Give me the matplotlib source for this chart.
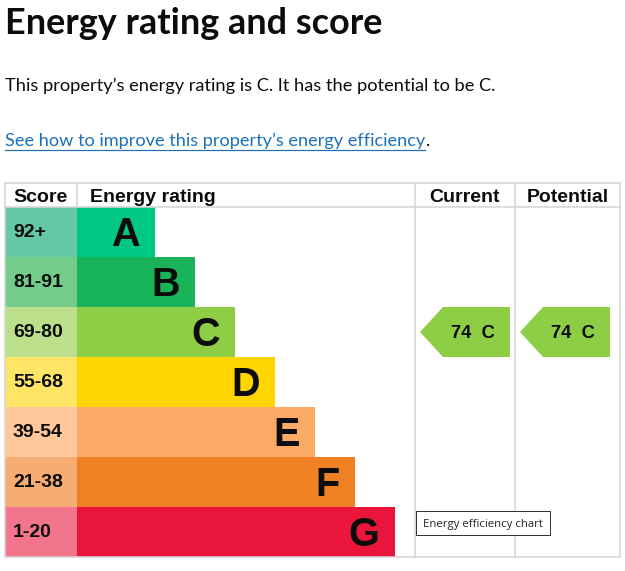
import matplotlib
matplotlib.use("Agg")
import matplotlib.pyplot as plt
from matplotlib.patches import Polygon

# ---- data ----
bands = ["A", "B", "C", "D", "E", "F", "G"]
score_ranges = ["92+", "81-91", "69-80", "55-68", "39-54", "21-38", "1-20"]
range_low = [92, 81, 69, 55, 39, 21, 1]
band_colors = ["#00c781", "#19b459", "#8dce46", "#ffd500", "#fcaa65", "#ef8023", "#e9153b"]
score_colors = ["#64c8a5", "#74cc8b", "#bbdf8a", "#ffe566", "#fec89b", "#f5ad74", "#f2758b"]
current_score = 74
potential_score = 74
headers = ["Score", "Energy rating", "Current", "Potential"]

title = "Energy rating and score"
summary = "This property\u2019s energy rating is C. It has the potential to be C."
link_text = "See how to improve this property\u2019s energy efficiency"
tooltip = "Energy efficiency chart"

# ---- layout (pixels) ----
W, H = 625, 571
fig = plt.figure(figsize=(W / 100, H / 100), dpi=100)
ax = fig.add_axes([0, 0, 1, 1])
ax.set_xlim(0, W)
ax.set_ylim(H, 0)
ax.axis("off")

PT = 72 / 100  # px -> pt
grey = "#d6d6d6"
lw = 1.6 * PT

left, right = 5, 620
top, head_bot = 183, 207
row_h = 50
score_w = 72
band_left = left + score_w
band_base, band_step = 78, 40
col_cur, col_pot = 415, 515
bottom = head_bot + row_h * len(bands)

text_font = ["Lato", "DejaVu Sans"]
table_font = ["Liberation Sans", "DejaVu Sans"]
renderer = fig.canvas.get_renderer()
inv = ax.transData.inverted()


def fit_text(x, y, s, target_w, size, **kw):
    t = ax.text(x, y, s, fontsize=size, va="baseline", ha="left", **kw)
    bb = t.get_window_extent(renderer)
    t.set_fontsize(size * target_w / bb.width)
    return t


# title & text
fit_text(5, 34, title, 378, 24, fontweight="bold", family=text_font,
         color="#0b0c0c")
fit_text(5, 91, summary, 492, 14, family=text_font, color="#0b0c0c")
lt = fit_text(5, 146, link_text, 423, 14, family=text_font, color="#1d70b8")
bb = lt.get_window_extent(renderer)
(x0, _), (x1, _) = inv.transform([[bb.x0, 0], [bb.x1, 0]])
ax.plot([x0, x1], [149.5, 149.5], color="#1d70b8", lw=1.2 * PT)
ax.text(x1 + 0.5, 146, ".", fontsize=lt.get_fontsize(), family=text_font,
        va="baseline", ha="left", color="#0b0c0c")

# rows
centers = [head_bot + row_h * (i + 0.5) for i in range(len(bands))]
widths = [band_base + band_step * i for i in range(len(bands))]
ax.barh(centers, [score_w] * len(bands), left=left, height=row_h,
        color=score_colors, linewidth=0)
ax.barh(centers, widths, left=band_left, height=row_h,
        color=band_colors, linewidth=0)
for c, s, w, b in zip(centers, score_ranges, widths, bands):
    ax.text(13, c + 5, s, fontsize=14, fontweight="bold", family=table_font,
            va="baseline", ha="left", color="#0b0c0c")
    ax.text(band_left + w - 15.5, c + 14, b, fontsize=28.5, fontweight="bold",
            family=table_font, va="baseline", ha="right", color="#0b0c0c")

# grid lines
ax.plot([left, right, right, left, left], [top, top, bottom, bottom, top],
        color=grey, lw=lw, solid_joinstyle="miter")
ax.plot([left, right], [head_bot, head_bot], color=grey, lw=lw)
ax.plot([band_left, band_left], [top, head_bot], color=grey, lw=lw)
for x in (col_cur, col_pot):
    ax.plot([x, x], [top, bottom], color=grey, lw=lw)

# headers
hy = 201.5
ax.text(13, hy, headers[0], fontsize=14, fontweight="bold", family=table_font,
        va="baseline", ha="left", color="#0b0c0c")
ax.text(90, hy, headers[1], fontsize=14, fontweight="bold", family=table_font,
        va="baseline", ha="left", color="#0b0c0c")
ax.text((col_cur + col_pot) / 2, hy, headers[2], fontsize=14, fontweight="bold",
        family=table_font, va="baseline", ha="center", color="#0b0c0c")
ax.text((col_pot + right) / 2, hy, headers[3], fontsize=14, fontweight="bold",
        family=table_font, va="baseline", ha="center", color="#0b0c0c")


def band_of(score):
    for i, lo in enumerate(range_low):
        if score >= lo:
            return i
    return len(range_low) - 1


def arrow(col_x, score):
    i = band_of(score)
    c = centers[i]
    tip = col_x + 5
    rect_l = tip + 23
    rect_r = tip + 90
    pts = [(tip, c), (rect_l, c - row_h / 2), (rect_r, c - row_h / 2),
           (rect_r, c + row_h / 2), (rect_l, c + row_h / 2)]
    ax.add_patch(Polygon(pts, closed=True, facecolor=band_colors[i],
                         edgecolor="none"))
    ax.text(tip + 53, c + 6, f"{score}  {bands[i]}", fontsize=13.2,
            fontweight="bold", family=table_font, va="baseline", ha="center",
            color="#0b0c0c")


arrow(col_cur, current_score)
arrow(col_pot, potential_score)

# tooltip
ax.add_patch(plt.Rectangle((415.5, 510.5), 134, 24, facecolor="white",
                           edgecolor="#333333", lw=1.0 * PT, zorder=5))
fit_text(423, 526.5, tooltip, 119, 8.4, family=["Open Sans", "DejaVu Sans"],
         color="#222222", zorder=6)

fig.savefig("out.png", dpi=100)
